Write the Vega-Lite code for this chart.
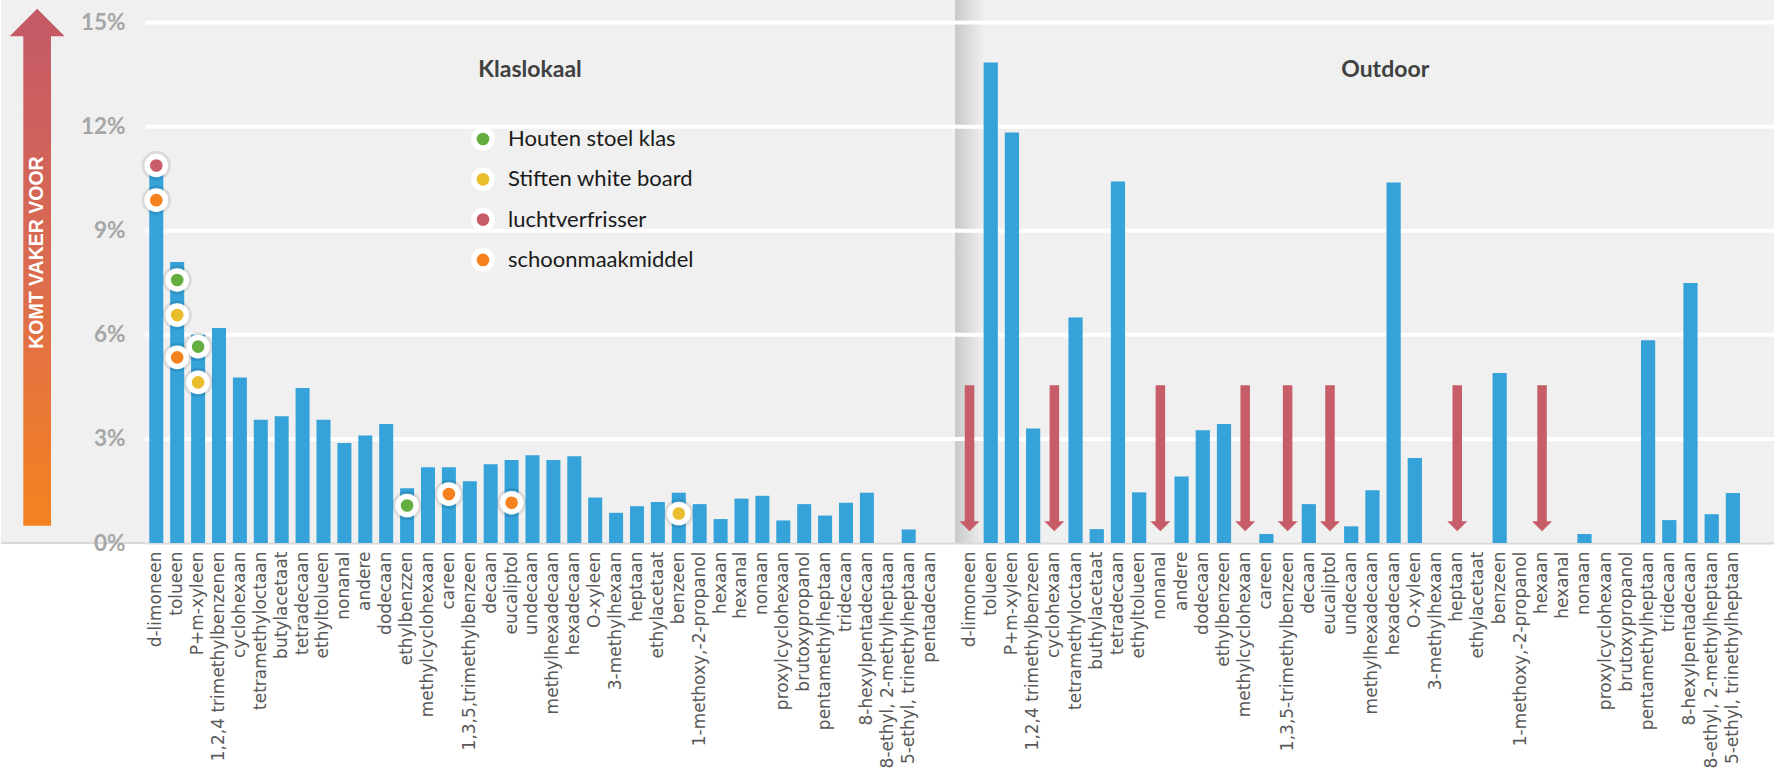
{
  "$schema": "https://vega.github.io/schema/vega-lite/v6.json",
  "background": "#FFFFFF",
  "padding": 0,
  "bounds": "flush",
  "spacing": 0,
  "config": {
    "view": {"stroke": null, "fill": "#EFF0EF"},
    "concat": {"spacing": 0}
  },
  "resolve": {"scale": {"x": "independent", "y": "independent", "color": "independent"}},
  "datasets": {
    "stoffen": [
      {"groep": "Klaslokaal", "stof": "d-limoneen", "pct": 10.8},
      {"groep": "Klaslokaal", "stof": "tolueen", "pct": 8.1},
      {"groep": "Klaslokaal", "stof": "P+m-xyleen", "pct": 6.0},
      {"groep": "Klaslokaal", "stof": "1,2,4 trimethylbenzenen", "pct": 6.2},
      {"groep": "Klaslokaal", "stof": "cyclohexaan", "pct": 4.77},
      {"groep": "Klaslokaal", "stof": "tetramethyloctaan", "pct": 3.55},
      {"groep": "Klaslokaal", "stof": "butylacetaat", "pct": 3.65},
      {"groep": "Klaslokaal", "stof": "tetradecaan", "pct": 4.47},
      {"groep": "Klaslokaal", "stof": "ethyltolueen", "pct": 3.55},
      {"groep": "Klaslokaal", "stof": "nonanal", "pct": 2.88},
      {"groep": "Klaslokaal", "stof": "andere", "pct": 3.1},
      {"groep": "Klaslokaal", "stof": "dodecaan", "pct": 3.43},
      {"groep": "Klaslokaal", "stof": "ethylbenzzen", "pct": 1.58},
      {"groep": "Klaslokaal", "stof": "methylcyclohexaan", "pct": 2.18},
      {"groep": "Klaslokaal", "stof": "careen", "pct": 2.18},
      {"groep": "Klaslokaal", "stof": "1,3,5,trimethylbenzeen", "pct": 1.78},
      {"groep": "Klaslokaal", "stof": "decaan", "pct": 2.27},
      {"groep": "Klaslokaal", "stof": "eucaliptol", "pct": 2.39},
      {"groep": "Klaslokaal", "stof": "undecaan", "pct": 2.53},
      {"groep": "Klaslokaal", "stof": "methylhexadecaan", "pct": 2.39},
      {"groep": "Klaslokaal", "stof": "hexadecaan", "pct": 2.5},
      {"groep": "Klaslokaal", "stof": "O-xyleen", "pct": 1.31},
      {"groep": "Klaslokaal", "stof": "3-methylhexaan", "pct": 0.87},
      {"groep": "Klaslokaal", "stof": "heptaan", "pct": 1.06},
      {"groep": "Klaslokaal", "stof": "ethylacetaat", "pct": 1.18},
      {"groep": "Klaslokaal", "stof": "benzeen", "pct": 1.45},
      {"groep": "Klaslokaal", "stof": "1-methoxy,-2-propanol", "pct": 1.12},
      {"groep": "Klaslokaal", "stof": "hexaan", "pct": 0.69},
      {"groep": "Klaslokaal", "stof": "hexanal", "pct": 1.28},
      {"groep": "Klaslokaal", "stof": "nonaan", "pct": 1.36},
      {"groep": "Klaslokaal", "stof": "proxylcyclohexaan", "pct": 0.65},
      {"groep": "Klaslokaal", "stof": "brutoxypropanol", "pct": 1.12},
      {"groep": "Klaslokaal", "stof": "pentamethylheptaan", "pct": 0.79},
      {"groep": "Klaslokaal", "stof": "tridecaan", "pct": 1.16},
      {"groep": "Klaslokaal", "stof": "8-hexylpentadecaan", "pct": 1.45},
      {"groep": "Klaslokaal", "stof": "8-ethyl, 2-methylheptaan", "pct": 0},
      {"groep": "Klaslokaal", "stof": "5-ethyl, trinethylheptaan", "pct": 0.39},
      {"groep": "Klaslokaal", "stof": "pentadecaan", "pct": 0},
      {"groep": "Outdoor", "stof": "d-limoneen", "pct": 0, "pijl": true},
      {"groep": "Outdoor", "stof": "tolueen", "pct": 13.85},
      {"groep": "Outdoor", "stof": "P+m-xyleen", "pct": 11.83},
      {"groep": "Outdoor", "stof": "1,2,4 trimethylbenzeen", "pct": 3.3},
      {"groep": "Outdoor", "stof": "cyclohexaan", "pct": 0, "pijl": true},
      {"groep": "Outdoor", "stof": "tetramethyloctaan", "pct": 6.5},
      {"groep": "Outdoor", "stof": "buthylacetaat", "pct": 0.4},
      {"groep": "Outdoor", "stof": "tetradecaan", "pct": 10.42},
      {"groep": "Outdoor", "stof": "ethyltolueen", "pct": 1.46},
      {"groep": "Outdoor", "stof": "nonanal", "pct": 0, "pijl": true},
      {"groep": "Outdoor", "stof": "andere", "pct": 1.92},
      {"groep": "Outdoor", "stof": "dodecaan", "pct": 3.25},
      {"groep": "Outdoor", "stof": "ethylbenzeen", "pct": 3.43},
      {"groep": "Outdoor", "stof": "methylcyclohexaan", "pct": 0, "pijl": true},
      {"groep": "Outdoor", "stof": "careen", "pct": 0.26},
      {"groep": "Outdoor", "stof": "1,3,5-trimethylbenzeen", "pct": 0, "pijl": true},
      {"groep": "Outdoor", "stof": "decaan", "pct": 1.12},
      {"groep": "Outdoor", "stof": "eucaliptol", "pct": 0, "pijl": true},
      {"groep": "Outdoor", "stof": "undecaan", "pct": 0.48},
      {"groep": "Outdoor", "stof": "methylhexadecaan", "pct": 1.52},
      {"groep": "Outdoor", "stof": "hexadecaan", "pct": 10.39},
      {"groep": "Outdoor", "stof": "O-xyleen", "pct": 2.45},
      {"groep": "Outdoor", "stof": "3-methylhexaan", "pct": 0},
      {"groep": "Outdoor", "stof": "heptaan", "pct": 0, "pijl": true},
      {"groep": "Outdoor", "stof": "ethylacetaat", "pct": 0},
      {"groep": "Outdoor", "stof": "benzeen", "pct": 4.9},
      {"groep": "Outdoor", "stof": "1-methoxy,-2-propanol", "pct": 0},
      {"groep": "Outdoor", "stof": "hexaan", "pct": 0, "pijl": true},
      {"groep": "Outdoor", "stof": "hexanal", "pct": 0},
      {"groep": "Outdoor", "stof": "nonaan", "pct": 0.26},
      {"groep": "Outdoor", "stof": "proxylcyclohexaan", "pct": 0},
      {"groep": "Outdoor", "stof": "brutoxypropanol", "pct": 0},
      {"groep": "Outdoor", "stof": "pentamethylheptaan", "pct": 5.84},
      {"groep": "Outdoor", "stof": "tridecaan", "pct": 0.66},
      {"groep": "Outdoor", "stof": "8-hexylpentadecaan", "pct": 7.49},
      {"groep": "Outdoor", "stof": "8-ethyl, 2-methylheptaan", "pct": 0.83},
      {"groep": "Outdoor", "stof": "5-ethyl, trinethylheptaan", "pct": 1.44}
    ],
    "bronnen": [
      {"stof": "d-limoneen", "bron": "luchtverfrisser", "pct": 10.88},
      {"stof": "d-limoneen", "bron": "schoonmaakmiddel", "pct": 9.88},
      {"stof": "tolueen", "bron": "Houten stoel klas", "pct": 7.58},
      {"stof": "tolueen", "bron": "Stiften white board", "pct": 6.57},
      {"stof": "tolueen", "bron": "schoonmaakmiddel", "pct": 5.35},
      {"stof": "P+m-xyleen", "bron": "Houten stoel klas", "pct": 5.66},
      {"stof": "P+m-xyleen", "bron": "Stiften white board", "pct": 4.63},
      {"stof": "ethylbenzzen", "bron": "Houten stoel klas", "pct": 1.08},
      {"stof": "careen", "bron": "schoonmaakmiddel", "pct": 1.41},
      {"stof": "eucaliptol", "bron": "schoonmaakmiddel", "pct": 1.16},
      {"stof": "benzeen", "bron": "Stiften white board", "pct": 0.85}
    ],
    "raster": [{"pct": 3}, {"pct": 6}, {"pct": 9}, {"pct": 12}, {"pct": 15}]
  },
  "hconcat": [
    {
      "width": 144,
      "height": 543,
      "data": {"values": [{}]},
      "layer": [
        {
          "mark": {"type": "rule", "color": "#D9D9D9", "strokeWidth": 2},
          "encoding": {
            "y": {"datum": 0, "type": "quantitative", "scale": {"domain": [0, 15.65], "nice": false}, "axis": null}
          }
        },
        {
          "mark": {
            "type": "rect",
            "fill": {
              "gradient": "linear", "x1": 0, "y1": 0, "x2": 0, "y2": 1,
              "stops": [
                {"offset": 0, "color": "#C55A66"},
                {"offset": 0.5, "color": "#DC6C4E"},
                {"offset": 1, "color": "#F5821F"}
              ]
            }
          },
          "encoding": {
            "x": {"datum": 22.3, "type": "quantitative", "scale": {"domain": [0, 144]}, "axis": null},
            "x2": {"datum": 50},
            "y": {"datum": 0.5, "type": "quantitative", "scale": {"domain": [0, 15.65], "nice": false}, "axis": null},
            "y2": {"datum": 14.7}
          }
        },
        {
          "mark": {"type": "point", "shape": "M-1,0.5L1,0.5L0,-0.5Z", "size": 3025, "filled": true, "color": "#C55A66", "opacity": 1, "strokeWidth": 0},
          "encoding": {
            "x": {"datum": 36.1, "type": "quantitative", "scale": {"domain": [0, 144]}, "axis": null},
            "y": {"datum": 15.0, "type": "quantitative", "scale": {"domain": [0, 15.65], "nice": false}, "axis": null}
          }
        },
        {
          "mark": {"type": "text", "text": "KOMT VAKER VOOR", "angle": 270, "align": "center", "baseline": "middle", "font": "Liberation Sans", "fontWeight": "bold", "fontSize": 19.5, "color": "#FFFFFF"},
          "encoding": {
            "x": {"datum": 36.1, "type": "quantitative", "scale": {"domain": [0, 144]}, "axis": null},
            "y": {"datum": 8.37, "type": "quantitative", "scale": {"domain": [0, 15.65], "nice": false}, "axis": null}
          }
        }
      ]
    },
    {
      "width": 810,
      "height": 543,
      "layer": [
        {
          "data": {"name": "raster"},
          "mark": {"type": "rule", "color": "#FFFFFF", "strokeWidth": 4},
          "encoding": {
            "y": {
              "field": "pct", "type": "quantitative",
              "scale": {"domain": [0, 15.65], "nice": false},
              "axis": {
                "values": [0, 3, 6, 9, 12, 15], "labelExpr": "datum.value + '%'", "title": null,
                "grid": false, "domain": false, "ticks": false, "labelPadding": 20,
                "labelFont": "Lato", "labelFontWeight": "bold", "labelFontSize": 22.5, "labelColor": "#A6A6A6"
              }
            }
          }
        },
        {
          "data": {"name": "stoffen"},
          "transform": [{"filter": "datum.groep === 'Klaslokaal'"}],
          "mark": {"type": "bar", "color": "#35A2DA"},
          "encoding": {
            "x": {
              "field": "stof", "type": "nominal", "sort": null,
              "scale": {
                "domain": ["d-limoneen", "tolueen", "P+m-xyleen", "1,2,4 trimethylbenzenen", "cyclohexaan", "tetramethyloctaan", "butylacetaat", "tetradecaan", "ethyltolueen", "nonanal", "andere", "dodecaan", "ethylbenzzen", "methylcyclohexaan", "careen", "1,3,5,trimethylbenzeen", "decaan", "eucaliptol", "undecaan", "methylhexadecaan", "hexadecaan", "O-xyleen", "3-methylhexaan", "heptaan", "ethylacetaat", "benzeen", "1-methoxy,-2-propanol", "hexaan", "hexanal", "nonaan", "proxylcyclohexaan", "brutoxypropanol", "pentamethylheptaan", "tridecaan", "8-hexylpentadecaan", "8-ethyl, 2-methylheptaan", "5-ethyl, trinethylheptaan", "pentadecaan"],
                "paddingInner": 0.33, "paddingOuter": 0.543, "align": 0.189
              },
              "axis": {
                "title": null, "labelAngle": 270, "labelFont": "DejaVu Sans", "labelFontSize": 17,
                "labelColor": "#595959", "ticks": false, "labelPadding": 8, "labelLimit": 0,
                "labelOverlap": false, "domainColor": "#D9D9D9", "domainWidth": 2
              }
            },
            "y": {"field": "pct", "type": "quantitative", "title": null}
          }
        },
        {
          "data": {"name": "bronnen"},
          "mark": {"type": "circle", "size": 860, "color": "#000000", "opacity": 0.09},
          "encoding": {
            "x": {"field": "stof", "type": "nominal"},
            "y": {"field": "pct", "type": "quantitative", "title": null}
          }
        },
        {
          "data": {"name": "bronnen"},
          "mark": {"type": "circle", "size": 330, "stroke": "#FFFFFF", "strokeWidth": 5.5, "opacity": 1},
          "encoding": {
            "x": {"field": "stof", "type": "nominal"},
            "y": {"field": "pct", "type": "quantitative", "title": null},
            "color": {
              "field": "bron", "type": "nominal",
              "scale": {
                "domain": ["Houten stoel klas", "Stiften white board", "luchtverfrisser", "schoonmaakmiddel"],
                "range": ["#63AE3F", "#E9BD2B", "#C75D67", "#F5821F"]
              },
              "legend": {
                "orient": "none", "legendX": 326, "legendY": 127, "title": null, "padding": 0,
                "symbolType": "circle", "symbolSize": 330, "symbolStrokeColor": "#FFFFFF", "symbolStrokeWidth": 5.5,
                "symbolOpacity": 1, "labelFont": "Lato", "labelFontSize": 22, "labelColor": "#1A1A1A",
                "labelOffset": 13, "rowPadding": -1.7, "labelLimit": 0
              }
            }
          }
        },
        {
          "data": {"values": [{}]},
          "mark": {"type": "text", "text": "Klaslokaal", "font": "Lato", "fontWeight": "bold", "fontSize": 23, "color": "#404040", "align": "center", "baseline": "alphabetic", "dx": 18.4},
          "encoding": {
            "x": {"datum": "eucaliptol", "type": "nominal"},
            "y": {"datum": 13.44, "type": "quantitative", "title": null}
          }
        }
      ]
    },
    {
      "width": 820,
      "height": 543,
      "view": {
        "stroke": null,
        "fill": {
          "gradient": "linear", "x1": 0, "y1": 0, "x2": 0.036, "y2": 0,
          "stops": [
            {"offset": 0, "color": "#C8C9CA"},
            {"offset": 1, "color": "#EFF0EF"}
          ]
        }
      },
      "layer": [
        {
          "data": {"name": "raster"},
          "mark": {"type": "rule", "color": "#FFFFFF", "strokeWidth": 4},
          "encoding": {
            "y": {"field": "pct", "type": "quantitative", "scale": {"domain": [0, 15.65], "nice": false}, "axis": null}
          }
        },
        {
          "data": {"name": "stoffen"},
          "transform": [{"filter": "datum.groep === 'Outdoor'"}],
          "mark": {"type": "bar", "color": "#35A2DA"},
          "encoding": {
            "x": {
              "field": "stof", "type": "nominal", "sort": null,
              "scale": {
                "domain": ["d-limoneen", "tolueen", "P+m-xyleen", "1,2,4 trimethylbenzeen", "cyclohexaan", "tetramethyloctaan", "buthylacetaat", "tetradecaan", "ethyltolueen", "nonanal", "andere", "dodecaan", "ethylbenzeen", "methylcyclohexaan", "careen", "1,3,5-trimethylbenzeen", "decaan", "eucaliptol", "undecaan", "methylhexadecaan", "hexadecaan", "O-xyleen", "3-methylhexaan", "heptaan", "ethylacetaat", "benzeen", "1-methoxy,-2-propanol", "hexaan", "hexanal", "nonaan", "proxylcyclohexaan", "brutoxypropanol", "pentamethylheptaan", "tridecaan", "8-hexylpentadecaan", "8-ethyl, 2-methylheptaan", "5-ethyl, trinethylheptaan"],
                "paddingInner": 0.33, "paddingOuter": 1.282, "align": 0.175
              },
              "axis": {
                "title": null, "labelAngle": 270, "labelFont": "DejaVu Sans", "labelFontSize": 17,
                "labelColor": "#595959", "ticks": false, "labelPadding": 8, "labelLimit": 0,
                "labelOverlap": false, "domainColor": "#D9D9D9", "domainWidth": 2
              }
            },
            "y": {"field": "pct", "type": "quantitative", "axis": null}
          }
        },
        {
          "data": {"name": "stoffen"},
          "transform": [{"filter": "datum.groep === 'Outdoor' && datum.pijl === true"}],
          "mark": {"type": "rule", "color": "#C65D68", "strokeWidth": 9.5, "strokeCap": "butt"},
          "encoding": {
            "x": {"field": "stof", "type": "nominal"},
            "y": {"datum": 4.55, "type": "quantitative"},
            "y2": {"datum": 0.55}
          }
        },
        {
          "data": {"name": "stoffen"},
          "transform": [{"filter": "datum.groep === 'Outdoor' && datum.pijl === true"}],
          "mark": {"type": "point", "shape": "M-1,-0.5L1,-0.5L0,0.5Z", "size": 400, "filled": true, "color": "#C65D68", "opacity": 1, "strokeWidth": 0},
          "encoding": {
            "x": {"field": "stof", "type": "nominal"},
            "y": {"datum": 0.48, "type": "quantitative"}
          }
        },
        {
          "data": {"values": [{}]},
          "mark": {"type": "text", "text": "Outdoor", "font": "Lato", "fontWeight": "bold", "fontSize": 23, "color": "#404040", "align": "center", "baseline": "alphabetic", "dx": -8.4},
          "encoding": {
            "x": {"datum": "hexadecaan", "type": "nominal"},
            "y": {"datum": 13.44, "type": "quantitative"}
          }
        }
      ]
    }
  ]
}
